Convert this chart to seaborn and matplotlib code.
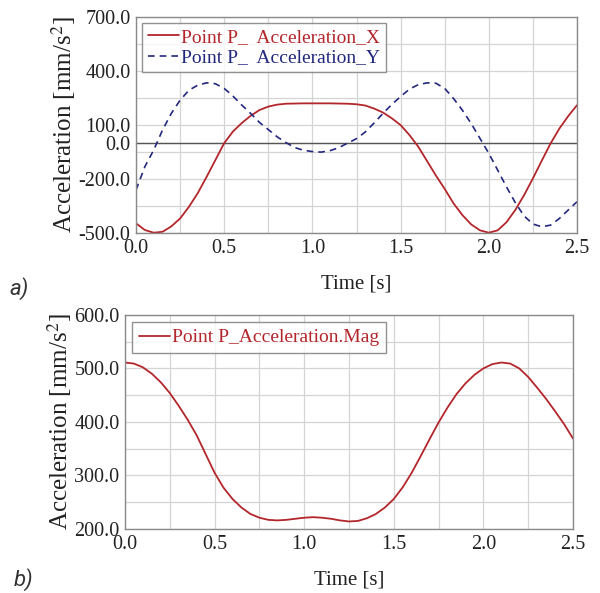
import numpy as np
import pandas as pd
import matplotlib
matplotlib.use("Agg")
import matplotlib.pyplot as plt
import seaborn as sns

# time base, read every 0.05 s
time_s = np.round(np.arange(0, 2.501, 0.05), 2)

accel_x = [-446, -483, -498, -493, -463, -419, -354, -278, -188, -94,
           0, 65, 112, 152, 184, 203, 214, 219, 220, 221,
           221, 221, 221, 220, 219, 216, 209, 192, 170, 138,
           100, 45, -20, -100, -180, -255, -335, -400, -452, -485,
           -498, -485, -440, -372, -289, -196, -98, -2, 81, 150,
           211]

accel_y = [-261, -131, -39, 72, 165, 239, 294, 322, 335, 330,
           304, 261, 211, 165, 115, 75, 35, 3, -25, -40,
           -47, -50, -42, -25, 0, 25, 62, 112, 165, 215,
           259, 300, 325, 335, 333, 304, 248, 183, 109, 26,
           -57, -150, -243, -331, -405, -450, -465, -456, -419, -372,
           -326]

accel_mag = [511, 509, 502, 490, 474, 454, 430, 404, 375, 340,
             305, 277, 256, 240, 228, 221, 217, 216, 217, 219,
             221, 222, 221, 219, 216, 214, 215, 220, 228, 240,
             256, 278, 305, 336, 368, 399, 427, 452, 472, 488,
             500, 508, 511, 509, 500, 484, 464, 443, 420, 396,
             369]

x_ticks = np.arange(0, 2.51, 0.25)
x_labels = ["0.0", "", "0.5", "", "1.0", "", "1.5", "", "2.0", "", "2.5"]

top_ticks = [-500, -350, -200, -50, 0, 100, 250, 400, 550, 700]
top_labels = ["-500.0", "", "-200.0", "", "0.0", "100.0", "", "400.0", "", "700.0"]

bot_ticks = np.arange(200, 601, 50)
bot_labels = ["200.0", "", "300.0", "", "400.0", "", "500.0", "", "600.0"]

RED = "#b3262b"
BLUE = "#23287f"

sns.set_theme(style="white")
plt.rcParams["font.family"] = ["Liberation Serif", "DejaVu Serif"]
plt.rcParams["mathtext.fontset"] = "stix"

df_top = pd.DataFrame({"t": time_s, "x": accel_x, "y": accel_y})
df_bot = pd.DataFrame({"t": time_s, "mag": accel_mag})

fig = plt.figure(figsize=(6.0, 5.93), dpi=100)
ax1 = fig.add_axes([0.2267, 0.607, 0.735, 0.364])
ax2 = fig.add_axes([0.2083, 0.108, 0.7467, 0.361])


def style_axes(ax, yticks, ylabels, ylim):
    ax.set_xlim(0, 2.5)
    ax.set_ylim(*ylim)
    ax.set_xticks(x_ticks)
    ax.set_xticklabels(x_labels)
    ax.set_yticks(yticks)
    ax.set_yticklabels(ylabels)
    ax.grid(True, color="#d4d4d4", linewidth=0.9)
    ax.set_axisbelow(True)
    for sp in ax.spines.values():
        sp.set_color("#8a8a8a")
        sp.set_linewidth(1.0)
    ax.tick_params(axis="both", direction="out", length=3, width=0.8,
                   color="#666666", labelsize=14.5, pad=1, labelcolor="#222222")
    ax.set_xlabel("Time [s]", fontsize=15, labelpad=12, color="#222222")
    ax.set_ylabel("Acceleration [mm/s$^2$]", fontsize=18, labelpad=0, color="#222222")


sns.lineplot(data=df_top, x="t", y="x", ax=ax1, color=RED, linewidth=1.3,
             label="Point P_  Acceleration_X")
sns.lineplot(data=df_top, x="t", y="y", ax=ax1, color=BLUE, linewidth=1.2,
             label="Point P_  Acceleration_Y")
ax1.lines[1].set_dashes([4, 3])
ax1.axhline(0, color="#555555", linewidth=1.0, zorder=1)
style_axes(ax1, top_ticks, top_labels, (-500, 700))

leg1 = ax1.legend(loc="upper left", bbox_to_anchor=(0.014, 0.975), fontsize=14,
                  frameon=True, fancybox=False, edgecolor="#777777",
                  handlelength=1.6, handletextpad=0.1, borderpad=0.3,
                  labelspacing=0.15, borderaxespad=0)
leg1.get_frame().set_linewidth(1.0)
for txt, col in zip(leg1.get_texts(), [RED, BLUE]):
    txt.set_color(col)

sns.lineplot(data=df_bot, x="t", y="mag", ax=ax2, color=RED, linewidth=1.3,
             label="Point P_Acceleration.Mag")
style_axes(ax2, bot_ticks, bot_labels, (200, 600))
leg2 = ax2.legend(loc="upper left", bbox_to_anchor=(0.016, 0.967), fontsize=14,
                  frameon=True, fancybox=False, edgecolor="#777777",
                  handlelength=1.6, handletextpad=0.1, borderpad=0.35,
                  borderaxespad=0)
leg2.get_frame().set_linewidth(1.0)
for txt in leg2.get_texts():
    txt.set_color(RED)

fig.text(0.015, 0.503, "a)", fontsize=16, family="Roboto", style="italic",
         color="#333333")
fig.text(0.022, 0.012, "b)", fontsize=16, family="Roboto", style="italic",
         color="#333333")

fig.savefig("out.png", dpi=100, facecolor="white")
